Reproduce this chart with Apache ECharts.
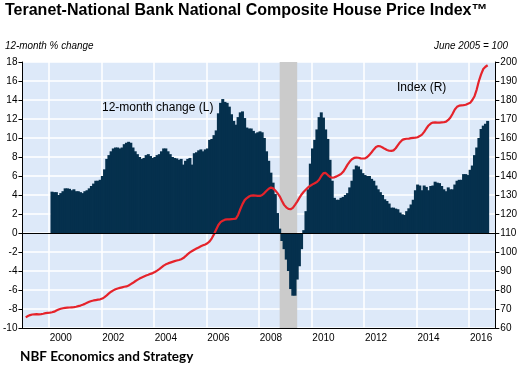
<!DOCTYPE html>
<html>
<head>
<meta charset="utf-8">
<script src="https://cdn.jsdelivr.net/npm/echarts@6/dist/echarts.min.js"></script>
<style>html,body{margin:0;padding:0;background:#fff;}</style>
</head>
<body>
<div id="main" style="width:520px;height:377px;"></div>
<script type="text/javascript">
// monthly categories, Jan 1999 .. Dec 2016
var firstYear = 1999, lastYear = 2016;
var months = [];
for (var y = firstYear; y <= lastYear; y++) {
    for (var m = 1; m <= 12; m++) months.push(y + '-' + (m < 10 ? '0' + m : m));
}

// 12-month % change (left axis), Feb 2000 .. Sep 2016
var changeStart = '2000-02';
var change12m = [
    4.35, 4.3, 4.3, 4.0, 4.2, 4.4, 4.7, 4.7, 4.65, 4.5, 4.6,            // 2000
    4.4, 4.4, 4.3, 4.2, 4.4, 4.5, 4.7, 4.95, 5.2, 5.5, 5.5, 5.6,        // 2001
    6.0, 6.7, 7.8, 8.2, 8.6, 8.9, 9.0, 9.0, 8.9, 9.0, 9.35, 9.5,        // 2002
    9.6, 9.5, 9.0, 8.6, 8.3, 8.0, 7.8, 7.9, 8.2, 8.3, 8.1, 7.9,         // 2003
    8.0, 8.2, 8.3, 8.6, 8.9, 8.9, 8.6, 8.3, 8.0, 7.9, 7.85, 7.7,        // 2004
    7.8, 7.2, 7.6, 7.8, 7.9, 7.2, 8.4, 8.5, 8.7, 8.8, 8.6, 8.8,         // 2005
    8.9, 9.8, 9.9, 10.3, 10.8, 12.6, 13.7, 14.1, 13.8, 13.7, 13.3, 12.5, // 2006
    11.8, 11.4, 12.2, 12.7, 12.8, 12.1, 11.1, 11.0, 11.0, 10.75, 10.5, 10.6, // 2007
    10.7, 10.6, 10.0, 8.6, 7.6, 6.35, 5.3, 4.1, 2.1, 0.46, -0.84, -1.7, // 2008
    -2.8, -4.0, -5.9, -6.6, -6.6, -4.9, -3.5, -1.7, 0.3, 2.3, 4.6, 7.3, // 2009
    8.9, 9.8, 10.9, 12.2, 12.7, 12.15, 10.9, 9.9, 7.7, 5.5, 3.7, 3.5,   // 2010
    3.5, 3.7, 3.8, 4.0, 4.2, 4.8, 5.5, 6.7, 7.1, 7.0, 6.7, 6.3,         // 2011
    6.1, 6.0, 6.0, 5.7, 5.5, 5.0, 4.6, 4.3, 4.0, 3.55, 3.37, 3.1,       // 2012
    2.67, 2.67, 2.57, 2.5, 2.15, 1.97, 1.9, 2.3, 2.6, 3.0, 3.5, 4.5,    // 2013
    5.1, 5.0, 4.5, 5.0, 4.85, 4.5, 4.95, 5.0, 5.4, 5.3, 5.25, 4.95,     // 2014
    4.6, 4.4, 4.8, 4.6, 4.6, 5.1, 5.5, 5.6, 5.6, 6.2, 6.2, 6.1,         // 2015
    6.65, 7.1, 8.2, 9.0, 10.0, 10.95, 11.3, 11.5, 11.8                  // 2016
];

// composite index, June 2005 = 100 (right axis), Feb 1999 .. Sep 2016
var indexStart = '1999-02';
var indexR = [
    65.6, 66.3, 66.8, 67.1, 67.2, 67.3, 67.2, 67.3, 67.5, 67.8, 68.0,            // 1999
    68.1, 68.3, 68.6, 69.2, 69.7, 70.1, 70.4, 70.6, 70.7, 70.8, 70.9, 71.0,      // 2000
    71.2, 71.5, 71.8, 72.2, 72.7, 73.3, 73.8, 74.2, 74.5, 74.7, 74.9, 75.1,      // 2001
    75.5, 76.3, 77.2, 78.2, 79.1, 79.8, 80.4, 80.8, 81.1, 81.4, 81.7, 81.9,      // 2002
    82.4, 83.1, 83.8, 84.6, 85.3, 86.0, 86.6, 87.1, 87.6, 88.0, 88.5, 88.9,      // 2003
    89.5, 90.2, 91.0, 91.9, 92.8, 93.5, 94.0, 94.4, 94.8, 95.2, 95.5, 95.8,      // 2004
    96.2, 96.8, 97.8, 98.9, 99.8, 100.5, 101.2, 101.8, 102.4, 103.0, 103.5, 104.0, // 2005
    104.6, 105.6, 107.2, 109.3, 111.8, 114.2, 115.7, 116.5, 117.0, 117.2, 117.2, 117.3, // 2006
    117.4, 117.6, 119.5, 122.5, 125.2, 127.3, 128.4, 129.2, 129.7, 129.8, 129.7, 129.5, // 2007
    129.5, 130.0, 131.0, 132.2, 133.3, 133.9, 133.5, 132.4, 131.0, 129.3, 127.0, 124.8, // 2008
    123.5, 122.7, 122.5, 123.2, 124.8, 126.5, 128.5, 130.3, 131.7, 132.9, 134.0, 134.9, // 2009
    135.6, 136.2, 136.8, 138.0, 140.0, 141.5, 141.6, 140.5, 139.5, 139.1, 139.3, 139.8, // 2010
    140.4, 141.0, 142.2, 144.0, 146.0, 147.6, 148.8, 149.5, 149.7, 149.6, 149.3, 149.2, // 2011
    149.3, 150.0, 151.1, 152.5, 154.0, 155.3, 155.8, 155.6, 155.0, 154.3, 153.7, 153.3, // 2012
    153.2, 153.5, 154.6, 156.2, 157.8, 159.0, 159.4, 159.6, 159.7, 159.9, 160.1, 160.2, // 2013
    160.4, 161.0, 161.8, 163.2, 165.0, 166.6, 167.6, 168.1, 168.2, 168.1, 168.1, 168.2, // 2014
    168.3, 168.6, 169.5, 170.8, 172.8, 175.0, 176.4, 177.0, 177.2, 177.3, 177.5, 178.0, // 2015
    178.5, 180.0, 182.0, 185.5, 190.0, 193.5, 196.3, 197.5, 198.3                        // 2016
];

// recession shading
var recession = ['2008-10', '2009-06'];

function padTo(start, values) {
    var out = [];
    var k = months.indexOf(start);
    for (var i = 0; i < months.length; i++) {
        var v = values[i - k];
        out.push(i >= k && v !== undefined ? v : null);
    }
    return out;
}

function yearOf(i) { return firstYear + Math.floor(i / 12); }

var font = 'Liberation Sans, Arial, sans-serif';
var myChart = echarts.init(document.getElementById('main'));
myChart.setOption({
    animation: false,
    textStyle: { fontFamily: font },
    grid: {
        left: 21, right: 24, top: 62, bottom: 49,
        show: true, backgroundColor: '#dde9f9', borderWidth: 0
    },
    graphic: [
        { type: 'text', left: 5, top: 3, style: { text: 'Teranet-National Bank National Composite House Price Index\u2122', font: 'bold 16px ' + font, fill: '#000' } },
        { type: 'text', x: 5, y: 40, scaleX: 0.9, style: { text: '12-month % change', font: 'italic 11px ' + font, fill: '#000' } },
        { type: 'text', x: 508, y: 40, scaleX: 0.9, style: { text: 'June 2005 = 100', align: 'right', font: 'italic 11px ' + font, fill: '#000' } },
        { type: 'text', left: 102, top: 102, z: 10, style: { text: '12-month change (L)', font: '12px ' + font, fill: '#000' } },
        { type: 'text', left: 397, top: 82, z: 10, style: { text: 'Index (R)', font: '12px ' + font, fill: '#000' } },
        { type: 'text', left: 20, top: 350, style: { text: 'NBF Economics and Strategy', font: 'bold 13.5px Lato, sans-serif', fill: '#000' } }
    ],
    xAxis: {
        type: 'category',
        data: months,
        boundaryGap: true,
        axisLine: { onZero: false, lineStyle: { color: '#000', width: 1 } },
        axisTick: {
            interval: function (i) { return i % 12 === 0; },
            length: 4, lineStyle: { color: '#000' }
        },
        axisLabel: {
            interval: function (i) { return i % 12 === 5 && yearOf(i) % 2 === 0; },
            formatter: function (v) { return v.slice(0, 4); },
            color: '#000', fontSize: 10, margin: 5
        },
        splitLine: {
            show: true,
            interval: function (i) { return i % 12 === 0 && yearOf(i) % 2 === 0; },
            lineStyle: { color: '#fff', width: 1.5 }
        }
    },
    yAxis: [{
        type: 'value', position: 'left',
        min: -10, max: 18, interval: 2,
        axisLine: { show: true, lineStyle: { color: '#000' } },
        axisTick: { show: true, length: 4, lineStyle: { color: '#000' } },
        axisLabel: { color: '#000', fontSize: 10, margin: 5 },
        splitLine: { lineStyle: { color: '#fff', width: 1.5 } }
    }, {
        type: 'value', position: 'right',
        min: 60, max: 200, interval: 10,
        axisLine: { show: true, lineStyle: { color: '#000' } },
        axisTick: { show: true, length: 4, lineStyle: { color: '#000' } },
        axisLabel: { color: '#000', fontSize: 10, margin: 5 },
        splitLine: { show: false }
    }],
    series: [{
        // holds the recession band, below the bars
        type: 'line', data: [], z: 1, silent: true,
        markArea: {
            silent: true,
            itemStyle: { color: '#cbcbcb' },
            data: [[{ xAxis: recession[0] }, { xAxis: recession[1] }]]
        }
    }, {
        name: '12-month change (L)',
        type: 'bar',
        z: 2,
        data: padTo(changeStart, change12m),
        barWidth: 3,
        itemStyle: { color: '#05304d' }
    }, {
        name: 'Index (R)',
        type: 'line',
        yAxisIndex: 1,
        z: 3,
        data: padTo(indexStart, indexR),
        symbol: 'none',
        lineStyle: { color: '#e5232b', width: 2.2 },
        markLine: {
            silent: true, symbol: 'none', label: { show: false },
            lineStyle: { color: '#000', width: 1, type: 'solid' },
            data: [{ yAxis: 110 }]
        }
    }]
});
</script>
</body>
</html>
